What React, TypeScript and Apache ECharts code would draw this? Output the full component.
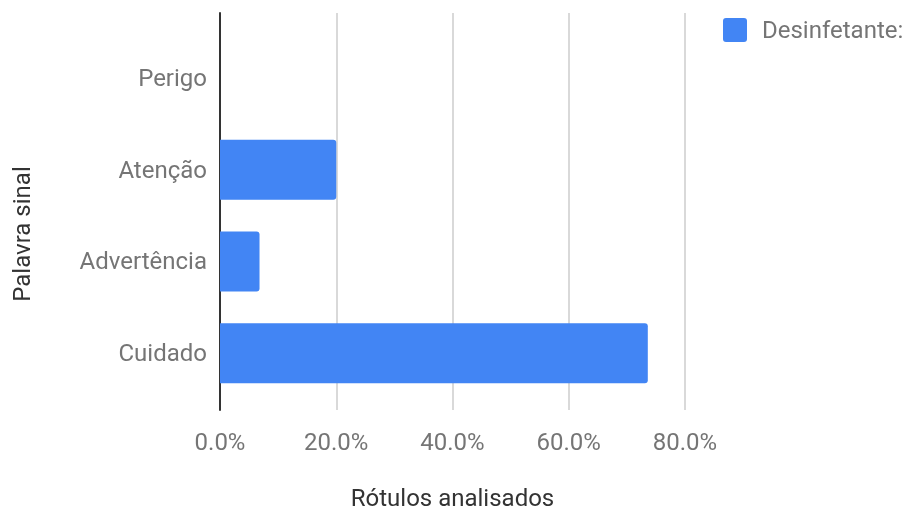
import React, { useEffect, useRef } from "react";
import * as echarts from "echarts";

const categories = ["Perigo", "Atenção", "Advertência", "Cuidado"];
const seriesName = "Desinfetante:";
const values = [0, 20.0, 6.8, 73.6];
const xTicks = [0, 20, 40, 60, 80];

const FONT = "Roboto";
const LABEL = "#757575";
const SIZE = 24;

// small rounded square used as the legend marker
const LEGEND_ICON =
  "path://M3,0 H21 A3,3 0 0 1 24,3 V21 A3,3 0 0 1 21,24 H3 A3,3 0 0 1 0,21 V3 A3,3 0 0 1 3,0 Z";

export default function App() {
  const ref = useRef<HTMLDivElement>(null);

  useEffect(() => {
    if (!ref.current) return;
    const chart = echarts.init(ref.current, null, { renderer: "svg" });
    const xMax = xTicks[xTicks.length - 1];
    const step = xTicks[1] - xTicks[0];

    chart.setOption({
      animation: false,
      textStyle: { fontFamily: FONT },
      legend: {
        data: [seriesName],
        left: 723,
        top: 18,
        padding: 0,
        icon: LEGEND_ICON,
        itemWidth: 24,
        itemHeight: 24,
        textStyle: { color: LABEL, fontSize: SIZE, fontFamily: FONT, padding: [0, 0, 0, 10] },
      },
      grid: [
        { left: 220, right: 222, top: 13, bottom: 106 },
        { left: 220, right: 222, top: 32, bottom: 117 },
      ],
      xAxis: [
        {
          gridIndex: 0,
          type: "value",
          min: 0,
          max: xMax,
          interval: step,
          axisLine: { show: false },
          axisTick: { show: false },
          splitLine: { lineStyle: { color: "#cccccc", width: 1.5 } },
          axisLabel: {
            color: LABEL,
            fontSize: SIZE,
            fontFamily: FONT,
            margin: 20,
            formatter: (v: number) => v.toFixed(1) + "%",
          },
          name: "Rótulos analisados",
          nameLocation: "middle",
          nameGap: 76,
          nameTextStyle: { color: "#333333", fontSize: SIZE, fontFamily: FONT },
        },
        {
          gridIndex: 1,
          type: "value",
          min: 0,
          max: xMax,
          show: false,
        },
      ],
      yAxis: [
        {
          gridIndex: 0,
          type: "value",
          axisLine: { show: true, onZero: false, lineStyle: { color: "#333333", width: 2 } },
          axisTick: { show: false },
          axisLabel: { show: false },
          splitLine: { show: false },
        },
        {
          gridIndex: 1,
          type: "category",
          data: categories,
          inverse: true,
          axisLine: { show: false },
          axisTick: { show: false },
          axisLabel: { color: LABEL, fontSize: SIZE, fontFamily: FONT, margin: 13 },
        },
      ],
      series: [
        {
          name: seriesName,
          type: "bar",
          xAxisIndex: 1,
          yAxisIndex: 1,
          data: values,
          barWidth: 60,
          itemStyle: { color: "#4285F4", borderRadius: [0, 3, 3, 0] },
        },
      ],
      graphic: [
        {
          type: "text",
          x: 22,
          y: 234,
          rotation: Math.PI / 2,
          style: {
            text: "Palavra sinal",
            fill: "#333333",
            fontSize: SIZE,
            fontFamily: FONT,
            align: "center",
            verticalAlign: "middle",
          },
        },
      ],
    });

    return () => chart.dispose();
  }, []);

  return (
    <div
      ref={ref}
      style={{ position: "fixed", left: 0, top: 0, width: 907, height: 516 }}
    />
  );
}
